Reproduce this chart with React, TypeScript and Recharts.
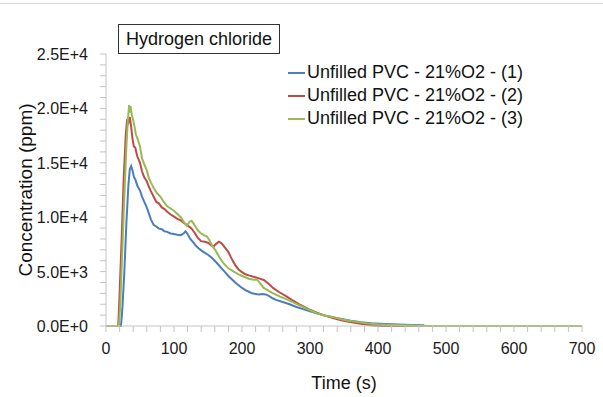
import React from "react"
import { LineChart, Line, XAxis, YAxis } from "recharts"

// time (s), concentration (ppm)
const run1: [number, number][] = [
  [0, 0], [10, 0], [20, 0], [22, 0], [24, 1500], [27, 5000], [30, 9500], [33, 13000],
  [35, 14400], [37, 14700], [39, 14300], [41, 13700], [43, 13500], [46, 12900], [50, 12450],
  [53, 11900], [56, 11450], [60, 10900], [63, 10350], [66, 9800], [70, 9300], [74, 9150],
  [78, 8950], [82, 8900], [86, 8700], [90, 8650], [95, 8500], [100, 8450], [105, 8380],
  [110, 8350], [114, 8500], [117, 8700], [120, 8450], [124, 8000], [128, 7700], [132, 7400],
  [136, 7150], [140, 6950], [145, 6750], [150, 6550], [155, 6300], [160, 6000], [165, 5650],
  [170, 5300], [175, 4950], [180, 4600], [185, 4300], [190, 4000], [195, 3750], [200, 3500],
  [205, 3300], [210, 3150], [215, 3000], [220, 2950], [225, 2900], [230, 2950], [235, 2900],
  [240, 2750], [245, 2550], [250, 2400], [260, 2200], [270, 2000], [280, 1750], [290, 1550],
  [300, 1350], [310, 1170], [320, 1000], [335, 780], [350, 600], [360, 480], [375, 350],
  [390, 250], [410, 180], [430, 130], [450, 100], [468, 80],
]

const run2: [number, number][] = [
  [0, 0], [10, 0], [18, 0], [20, 3000], [23, 8000], [26, 13500], [29, 17500], [31, 19000],
  [33, 18700], [35, 19200], [37, 18300], [39, 17200], [41, 16500], [43, 16400], [46, 15600],
  [50, 15000], [53, 14200], [56, 13700], [60, 13300], [63, 12800], [66, 12400], [70, 11900],
  [74, 11400], [78, 11250], [82, 10900], [86, 10750], [90, 10500], [95, 10250], [100, 10050],
  [105, 9850], [110, 9700], [115, 9450], [120, 9250], [126, 8950], [130, 8600], [135, 8100],
  [140, 7800], [145, 7750], [150, 7650], [155, 7400], [158, 7300], [162, 7550], [166, 7750],
  [170, 7600], [175, 7200], [180, 6800], [185, 6150], [190, 5600], [195, 5200], [200, 4950],
  [205, 4750], [210, 4650], [217, 4530], [225, 4380], [232, 4230], [238, 3950], [246, 3480],
  [255, 3100], [266, 2700], [276, 2300], [286, 1930], [298, 1550], [310, 1220], [322, 950],
  [335, 710], [346, 520], [357, 400], [370, 250], [385, 120], [398, 30], [410, 0], [500, 0],
  [600, 0], [700, 0],
]

const run3: [number, number][] = [
  [0, 0], [10, 0], [19, 0], [21, 2000], [24, 7000], [27, 12000], [30, 16500], [32, 18800],
  [34, 20300], [35, 19600], [36, 20200], [38, 19400], [40, 18900], [42, 18300], [44, 17600],
  [47, 17100], [50, 16500], [53, 15400], [56, 14900], [60, 14300], [63, 13600], [66, 13200],
  [70, 12700], [75, 12200], [80, 11900], [85, 11400], [90, 11000], [95, 10800], [100, 10600],
  [105, 10300], [110, 10000], [115, 9500], [119, 9200], [123, 9600], [126, 9650], [130, 9300],
  [135, 8800], [139, 8550], [144, 8350], [148, 8250], [152, 7900], [156, 7400], [161, 6950],
  [167, 6300], [173, 5750], [180, 5300], [188, 4990], [195, 4750], [202, 4550], [210, 4350],
  [217, 4250], [222, 4280], [227, 3900], [232, 3500], [240, 3200], [246, 3000], [256, 2700],
  [266, 2450], [276, 2150], [286, 1850], [298, 1500], [310, 1170], [322, 950], [335, 800],
  [346, 620], [357, 490], [370, 360], [385, 240], [400, 160], [420, 100], [440, 60],
  [460, 30], [480, 0], [550, 0], [620, 0], [700, 0],
]

const seriesNames = [
  "Unfilled PVC - 21%O2 - (1)",
  "Unfilled PVC - 21%O2 - (2)",
  "Unfilled PVC - 21%O2 - (3)",
]
const seriesColors = ["#4a7ebb", "#be4b48", "#98b954"]
const runs = [run1, run2, run3]

const xMajor = [0, 100, 200, 300, 400, 500, 600, 700]
const yMajor = [0, 5000, 10000, 15000, 20000, 25000]
const xTicks = Array.from({ length: 36 }, (_, i) => i * 20)
const yTicks = Array.from({ length: 26 }, (_, i) => i * 1000)

const font = "'Liberation Sans', Arial, sans-serif"
const axisGrey = "#c4c4c4"

function XTick({ x, y, payload }: any) {
  if (!xMajor.includes(payload.value)) return null
  return (
    <text x={x} y={y + 18} textAnchor="middle" fill="#1a1a1a" fontSize={16} fontFamily={font}>
      {payload.value}
    </text>
  )
}

function YTick({ x, y, payload }: any) {
  if (!yMajor.includes(payload.value)) return null
  return (
    <text x={x} y={y + 6} textAnchor="end" fill="#1a1a1a" fontSize={16} fontFamily={font}>
      {payload.value.toExponential(1).replace("e", "E")}
    </text>
  )
}

function LegendBox() {
  return (
    <div style={{ position: "absolute", left: 288, top: 61, fontFamily: font, fontSize: 18, color: "#111" }}>
      {seriesNames.map((name, i) => (
        <div key={name} style={{ display: "flex", alignItems: "center", height: 23, whiteSpace: "nowrap" }}>
          <span style={{ width: 17, height: 2, background: seriesColors[i], marginRight: 2 }} />
          <span>{name}</span>
        </div>
      ))}
    </div>
  )
}

export default function App() {
  return (
    <div style={{ position: "absolute", left: 0, top: 0, width: 603, height: 397, background: "#fff" }}>
      <div style={{ position: "absolute", left: 0, top: 3, width: 603, height: 1, background: "#d4d4d4" }} />
      <LineChart width={603} height={397} margin={{ top: 54, right: 21, bottom: 0, left: 0 }}>
        <XAxis
          dataKey="t"
          type="number"
          domain={[0, 700]}
          ticks={xTicks}
          interval={0}
          height={71}
          tickSize={6}
          tickMargin={4}
          stroke={axisGrey}
          tick={<XTick />}
          label={{ value: "Time (s)", position: "insideBottom", offset: 8, fill: "#111", fontSize: 18, fontFamily: font }}
        />
        <YAxis
          type="number"
          domain={[0, 25000]}
          ticks={yTicks}
          interval={0}
          width={106}
          tickSize={6}
          tickMargin={12}
          stroke={axisGrey}
          tick={<YTick />}
          label={{
            value: "Concentration (ppm)",
            angle: -90,
            position: "insideLeft",
            offset: 25,
            style: { textAnchor: "middle" },
            fill: "#111",
            fontSize: 19,
            fontFamily: font,
          }}
        />
        {runs.map((run, i) => (
          <Line
            key={seriesNames[i]}
            name={seriesNames[i]}
            data={run.map(([t, v]) => ({ t, v }))}
            dataKey="v"
            type="linear"
            stroke={seriesColors[i]}
            strokeWidth={2}
            dot={false}
            isAnimationActive={false}
          />
        ))}
      </LineChart>
      <LegendBox />
      <div
        style={{
          position: "absolute",
          left: 118,
          top: 24,
          width: 160,
          height: 28,
          border: "1px solid #333",
          fontFamily: font,
          fontSize: 18,
          color: "#111",
          display: "flex",
          alignItems: "center",
          justifyContent: "center",
          boxSizing: "content-box",
        }}
      >
        Hydrogen chloride
      </div>
    </div>
  )
}
